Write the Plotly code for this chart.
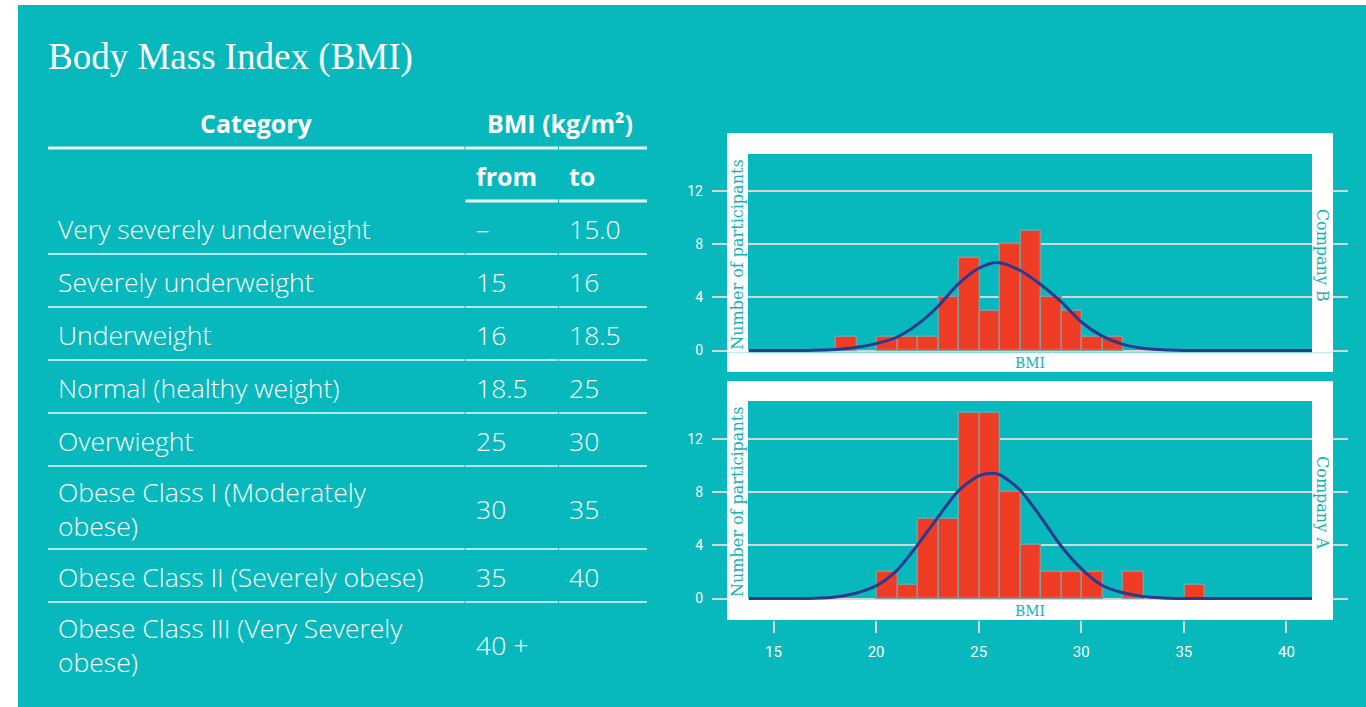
import plotly.graph_objects as go

# ---------------- data ----------------
categories = [
    "Very severely underweight",
    "Severely underweight",
    "Underweight",
    "Normal (healthy weight)",
    "Overwieght",
    "Obese Class I (Moderately<br>obese)",
    "Obese Class II (Severely obese)",
    "Obese Class III (Very Severely<br>obese)",
]
bmi_from = ["–", "15", "16", "18.5", "25", "30", "35", "40 +"]
bmi_to = ["15.0", "16", "18.5", "25", "30", "35", "40", ""]

bin_start = [18, 19, 20, 21, 22, 23, 24, 25, 26, 27, 28, 29, 30, 31, 32, 33, 34, 35]
company_b_counts = [1, 0, 1, 1, 1, 4, 7, 3, 8, 9, 4, 3, 1, 1, 0, 0, 0, 0]
company_a_counts = [0, 0, 2, 1, 6, 6, 14, 14, 8, 4, 2, 2, 2, 0, 2, 0, 0, 1]

# fitted normal curves
curve_b_x = [13.8, 16, 17, 18, 19, 20, 21, 22, 23, 24, 25, 25.9, 27, 28, 29, 30, 31, 32, 33, 34, 35, 36, 41.3]
curve_b_y = [0, 0, 0.02, 0.08, 0.22, 0.52, 1.0, 1.95, 3.3, 5.0, 6.2, 6.64, 6.05, 5.0, 3.7, 2.15, 1.1, 0.48, 0.17, 0.05, 0.01, 0, 0]
curve_a_x = [13.8, 16, 17, 18, 19, 20, 21, 22, 23, 24, 25, 25.6, 26, 27, 28, 29, 30, 31, 32, 33, 34, 35, 41.3]
curve_a_y = [0, 0, 0.02, 0.12, 0.4, 0.95, 2.1, 4.0, 6.1, 8.1, 9.25, 9.44, 9.35, 8.2, 6.2, 4.0, 2.25, 1.0, 0.45, 0.15, 0.04, 0, 0]

y_ticks = [0, 4, 8, 12]
x_ticks = [15, 20, 25, 30, 35, 40]

# ---------------- style ----------------
W, H = 1366, 707
TEAL = "#07B8BD"
LABEL_TEAL = "#14B2B7"
BAR_RED = "#EE3C25"
CURVE_BLUE = "#2A3A8E"
GRID = "#D2D6D6"
TEXT = "#FFFFFF"
LINE = "rgba(255,255,255,0.92)"


def px(x):
    return x / W


def py(y):
    return 1 - y / H


fig = go.Figure()


def nonzero(xs, ys):
    pairs = [(a, b) for a, b in zip(xs, ys) if b > 0]
    return [p[0] for p in pairs], [p[1] for p in pairs]


bx, by = nonzero(bin_start, company_b_counts)
ax_, ay = nonzero(bin_start, company_a_counts)

bar_style = dict(marker=dict(color=BAR_RED, line=dict(color="#86999A", width=1.4)),
                 width=1.0, offset=0.05, showlegend=False, hoverinfo="skip")

fig.add_trace(go.Bar(x=bx, y=by, xaxis="x", yaxis="y", **bar_style))
fig.add_trace(go.Scatter(x=curve_b_x, y=curve_b_y, xaxis="x", yaxis="y", mode="lines",
                         line=dict(color=CURVE_BLUE, width=3, shape="spline", smoothing=0.8),
                         showlegend=False, hoverinfo="skip"))
fig.add_trace(go.Bar(x=ax_, y=ay, xaxis="x2", yaxis="y2", **bar_style))
fig.add_trace(go.Scatter(x=curve_a_x, y=curve_a_y, xaxis="x2", yaxis="y2", mode="lines",
                         line=dict(color=CURVE_BLUE, width=3, shape="spline", smoothing=0.8),
                         showlegend=False, hoverinfo="skip"))

x_dom = [px(712), px(1348)]
y_range = [-1.62, 16.4]
x_range = [12, 43]

yax = dict(range=y_range, tickvals=y_ticks, showgrid=True, gridcolor=GRID, gridwidth=2,
           zeroline=False, showline=False, ticks="", ticklabelstandoff=8,
           tickfont=dict(family="Roboto", size=14, color=TEXT), fixedrange=True)

fig.update_layout(
    width=W, height=H,
    margin=dict(l=0, r=0, t=0, b=0),
    paper_bgcolor="#FFFFFF",
    plot_bgcolor="rgba(0,0,0,0)",
    bargap=0,
    showlegend=False,
    xaxis=dict(domain=x_dom, anchor="y", range=x_range, showgrid=False, zeroline=False,
               showticklabels=False, ticks="", showline=False, fixedrange=True),
    yaxis=dict(domain=[py(372), py(133)], anchor="x", **yax),
    xaxis2=dict(domain=x_dom, anchor="y2", range=x_range, showgrid=False, zeroline=False,
                tickvals=x_ticks, ticks="outside", ticklen=12, tickwidth=2, tickcolor=GRID,
                ticklabelstandoff=6, showline=False,
                tickfont=dict(family="Roboto", size=15, color=TEXT), fixedrange=True),
    yaxis2=dict(domain=[py(620), py(381)], anchor="x2", **yax),
)

shapes = []
# page background (white margins at top/left)
shapes.append(dict(type="rect", xref="paper", yref="paper", x0=px(18), x1=1, y0=0, y1=py(5),
                   fillcolor=TEAL, line=dict(width=0), layer="below"))


# white panel frames
def frame(outer, inner):
    ox0, oy0, ox1, oy1 = outer
    ix0, iy0, ix1, iy1 = inner
    strips = [(ox0, oy0, ox1, iy0), (ox0, iy1, ox1, oy1), (ox0, iy0, ix0, iy1), (ix1, iy0, ox1, iy1)]
    for x0, y0, x1, y1 in strips:
        shapes.append(dict(type="rect", xref="paper", yref="paper", x0=px(x0), x1=px(x1),
                           y0=py(y1), y1=py(y0), fillcolor="#FFFFFF", line=dict(width=0),
                           layer="above"))


frame((727, 133, 1333, 372), (748, 154, 1312, 352.5))
frame((727, 381, 1333, 620), (748, 401, 1312, 600))

# table rules (column segments with hairline breaks)
col_segments = [(48, 464.5), (465.5, 558), (559, 647)]


def hrule(y, width, segs):
    for x0, x1 in segs:
        shapes.append(dict(type="line", xref="paper", yref="paper", x0=px(x0), x1=px(x1),
                           y0=py(y), y1=py(y), line=dict(color=LINE, width=width), layer="above"))


hrule(148, 3, col_segments)
hrule(201, 3, col_segments[1:])

annotations = []


def text(x, y, s, size, weight=300, anchor="left", family="Open Sans", color=TEXT, angle=0):
    annotations.append(dict(x=px(x), y=py(y), xref="paper", yref="paper", text=s,
                            showarrow=False, xanchor=anchor, yanchor="middle", align="left",
                            textangle=angle,
                            font=dict(family=family, size=size, color=color, weight=weight)))


# title
text(46, 57, "Body Mass Index (BMI)", 37, weight=300, family="Liberation Serif")

# table header
text(256.5, 123, "Category", 25, weight=700, anchor="center")
text(560, 123, "BMI (kg/m²)", 25, weight=700, anchor="center")
text(474, 176, "from", 25, weight=700)
text(567, 176, "to", 25, weight=700)

row_top = 201
for i, cat in enumerate(categories):
    n_lines = cat.count("<br>") + 1
    h = 53 + 30 * (n_lines - 1)
    yc = row_top + h / 2 + 1
    text(56, yc, cat, 26.5)
    text(474, yc, bmi_from[i], 26.5)
    text(567, yc, bmi_to[i], 26.5)
    if i < len(categories) - 1:
        hrule(row_top + h, 1.6, col_segments)
    row_top += h

# panel labels
for top, inner_top, inner_bot, name in [(133, 154, 352.5, "Company B"), (381, 401, 600, "Company A")]:
    mid = (inner_top + inner_bot) / 2
    text(737.5, mid + 1, "Number of participants", 16, weight=400, anchor="center",
         family="DejaVu Serif", color=LABEL_TEAL, angle=-90)
    text(1322.5, mid + 2, name, 16, weight=400, anchor="center",
         family="DejaVu Serif", color=LABEL_TEAL, angle=90)
    text(1030, inner_bot + 10.5, "BMI", 14, weight=400, anchor="center",
         family="DejaVu Serif", color=LABEL_TEAL)

fig.update_layout(shapes=shapes, annotations=annotations)

fig.write_html("out.html", config={"displayModeBar": False},
               post_script="document.body.style.margin='0';")
